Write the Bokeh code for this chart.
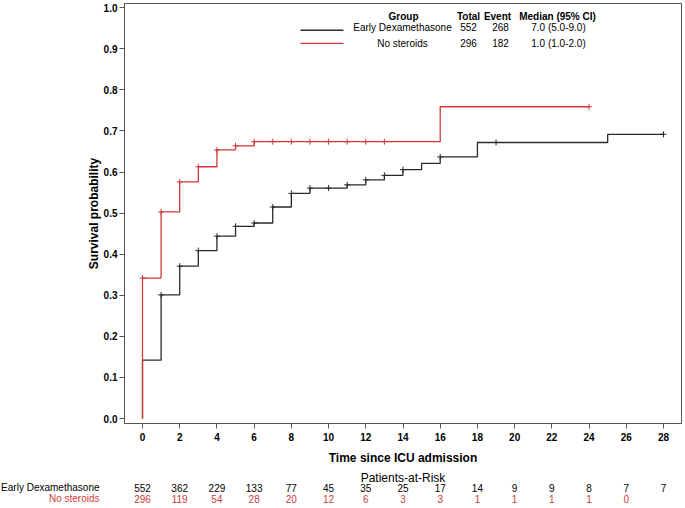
from bokeh.plotting import figure
from bokeh.layouts import column
from bokeh.models import Range1d, FixedTicker, NumeralTickFormatter, ColumnDataSource
from bokeh.core.properties import value
from bokeh.embed import file_html
from bokeh.resources import INLINE

# ---------------- data ----------------
groups = ["Early Dexamethasone", "No steroids"]
totals = ["552", "296"]
events = ["268", "182"]
medians = ["7.0 (5.0-9.0)", "1.0 (1.0-2.0)"]

dex_times = [0, 0, 1, 2, 3, 4, 5, 6, 7, 8, 9, 11, 12, 13, 14, 15, 16, 18, 25]
dex_surv = [0.0, 0.142, 0.301, 0.371, 0.409, 0.444, 0.468, 0.476, 0.515, 0.548,
            0.561, 0.569, 0.581, 0.592, 0.606, 0.621, 0.637, 0.672, 0.692]
dex_end = 28
dex_censor = [1, 2, 3, 4, 5, 6, 7, 8, 9, 10, 11, 12, 13, 14, 16, 19, 28]

nos_times = [0, 0, 1, 2, 3, 4, 5, 6, 16]
nos_surv = [0.0, 0.342, 0.503, 0.576, 0.613, 0.654, 0.664, 0.674, 0.759]
nos_end = 24
nos_censor = [0, 1, 2, 3, 4, 5, 6, 7, 8, 9, 10, 11, 12, 13, 24]

risk_times = [0, 2, 4, 6, 8, 10, 12, 14, 16, 18, 20, 22, 24, 26, 28]
risk_dex = [552, 362, 229, 133, 77, 45, 35, 25, 17, 14, 9, 9, 8, 7, 7]
risk_nos = [296, 119, 54, 28, 20, 12, 6, 3, 3, 1, 1, 1, 1, 0]

x_ticks = list(range(0, 29, 2))
y_ticks = [0.0, 0.1, 0.2, 0.3, 0.4, 0.5, 0.6, 0.7, 0.8, 0.9, 1.0]

# ---------------- style / layout ----------------
BLACK = "#2a2a2a"
RED = "#d03a3a"
FONT = "Liberation Sans"
AXC = "#555555"

W, H1, H2 = 685, 467, 41
FRAME_L, FRAME_R, FRAME_T, FRAME_B = 124, 681, 3, 427   # page pixels
X_ZERO_PX, X_28_PX = 142, 663
Y_ZERO_PX, Y_ONE_PX = 422, 7.3
XS = (X_28_PX - X_ZERO_PX) / 28.0
YS = (Y_ZERO_PX - Y_ONE_PX)


def dx(px):
    return (px - X_ZERO_PX) / XS


def dy(py):
    return (Y_ZERO_PX - py) / YS


def surv_at(times, surv, t):
    v = surv[0]
    for ti, si in zip(times, surv):
        if ti <= t:
            v = si
    return v


p = figure(width=W, height=H1, output_backend="svg", toolbar_location=None,
           x_range=Range1d(dx(FRAME_L), dx(FRAME_R)),
           y_range=Range1d(dy(FRAME_B), dy(FRAME_T)),
           min_border_left=FRAME_L, min_border_right=W - FRAME_R,
           min_border_top=FRAME_T, min_border_bottom=H1 - FRAME_B)
p.grid.visible = False
p.outline_line_color = AXC
p.outline_line_width = 1
p.background_fill_color = "white"
p.border_fill_color = "white"

# curves
p.step(dex_times + [dex_end], dex_surv + [dex_surv[-1]], mode="after",
       line_color=BLACK, line_width=1.3)
p.step(nos_times + [nos_end], nos_surv + [nos_surv[-1]], mode="after",
       line_color=RED, line_width=1.3)
p.scatter(dex_censor, [surv_at(dex_times, dex_surv, t) for t in dex_censor],
          marker="cross", size=6, line_color=BLACK, line_width=1)
p.scatter(nos_censor, [surv_at(nos_times, nos_surv, t) for t in nos_censor],
          marker="cross", size=6, line_color=RED, line_width=1)

# axes
p.xaxis.ticker = FixedTicker(ticks=x_ticks)
p.yaxis.ticker = FixedTicker(ticks=y_ticks)
p.yaxis.formatter = NumeralTickFormatter(format="0.0")
p.xaxis.axis_label = "Time since ICU admission"
p.yaxis.axis_label = "Survival probability"
for ax in (p.xaxis, p.yaxis):
    ax.axis_line_color = AXC
    ax.major_tick_line_color = AXC
    ax.minor_tick_line_color = None
    ax.major_tick_out = 5
    ax.major_tick_in = 0
    ax.major_label_text_font = FONT
    ax.major_label_text_font_size = "10px"
    ax.major_label_text_font_style = "bold"
    ax.major_label_text_color = "black"
    ax.axis_label_text_font = FONT
    ax.axis_label_text_font_size = "12px"
    ax.axis_label_text_font_style = "bold"
    ax.axis_label_text_color = "black"
p.xaxis.major_label_standoff = 4
p.xaxis.axis_label_standoff = 7
p.yaxis.major_label_standoff = 2
p.yaxis.axis_label_standoff = 0

# legend table
hdr = dict(text_font=value(FONT), text_font_size="10px", text_font_style="bold",
           text_align="center", text_baseline="middle", text_color="black")
p.text(x=[dx(403), dx(468), dx(497), dx(557)], y=[dy(16)] * 4,
       text=["Group", "Total", "Event", "Median (95% CI)"], **hdr)
row_y = [dy(27), dy(43)]
cell = dict(text_font=value(FONT), text_font_size="10px",
            text_align="center", text_baseline="middle", text_color="black")
p.text(x=[dx(402)] * 2, y=row_y, text=groups, **cell)
p.text(x=[dx(468)] * 2, y=row_y, text=totals, **cell)
p.text(x=[dx(500)] * 2, y=row_y, text=events, **cell)
p.text(x=[dx(558)] * 2, y=row_y, text=medians, **cell)
p.line([dx(300), dx(343)], [dy(30)] * 2, line_color=BLACK, line_width=1.3)
p.line([dx(300), dx(343)], [dy(43.3)] * 2, line_color=RED, line_width=1.3)

# ---------------- patients at risk (second strip, y in pixels from its top) ----
p2 = figure(width=W, height=H2, output_backend="svg", toolbar_location=None,
            x_range=Range1d(dx(0), dx(W)), y_range=Range1d(H2, 0),
            x_axis_type=None, y_axis_type=None,
            min_border_left=0, min_border_right=0, min_border_top=0,
            min_border_bottom=0)
p2.frame_align = False
p2.outline_line_color = None
p2.grid.visible = False
p2.background_fill_color = "white"
p2.border_fill_color = "white"

Y_HDR, Y_R1, Y_R2 = 10, 20.2, 31
p2.text(x=[dx(402.5)], y=[Y_HDR], text=["Patients-at-Risk"],
        text_font=value(FONT), text_font_size="12px", text_align="center",
        text_baseline="middle", text_color="black")
lab = dict(text_font=value(FONT), text_font_size="10px", text_align="right",
           text_baseline="middle")
p2.text(x=[dx(99)], y=[Y_R1], text=[groups[0]], text_color="black", **lab)
p2.text(x=[dx(99)], y=[Y_R2], text=[groups[1]], text_color=RED, **lab)

src_dex = ColumnDataSource(dict(x=risk_times, y=[Y_R1] * len(risk_dex),
                                t=[str(v) for v in risk_dex]))
src_nos = ColumnDataSource(dict(x=risk_times[:len(risk_nos)],
                                y=[Y_R2] * len(risk_nos),
                                t=[str(v) for v in risk_nos]))
num = dict(text_font=value(FONT), text_font_size="10px", text_align="center",
           text_baseline="middle")
p2.text(x="x", y="y", text="t", source=src_dex, text_color="black", **num)
p2.text(x="x", y="y", text="t", source=src_nos, text_color=RED, **num)

layout = column(p, p2, spacing=0)
open("out.html", "w").write(file_html(layout, INLINE))
